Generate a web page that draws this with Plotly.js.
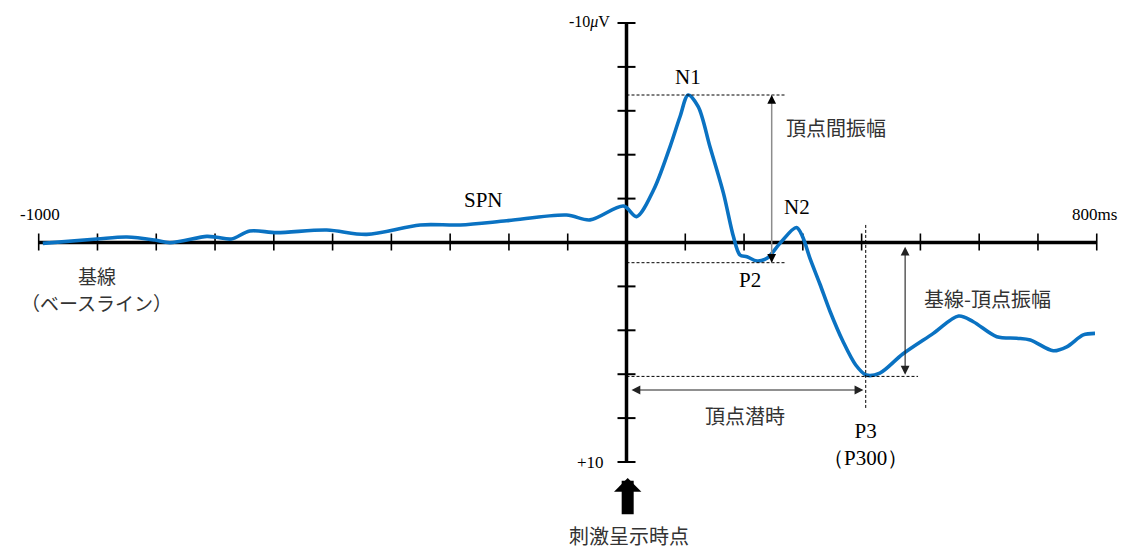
<!DOCTYPE html>
<html><head><meta charset="utf-8">
<script src="https://cdn.plot.ly/plotly-3.0.1.min.js"></script>
<style>html,body{margin:0;padding:0;background:#fff}#chart{width:1124px;height:550px}</style>
</head><body><div id="chart"></div>
<script>
// ---- data (ms, µV; negative is up) ----
const timesMs = [-993, -901, -850, -802, -777, -714, -697, -672, -641, -595, -510, -442, -351, -283, -204, -102, -62, -5, 17, 46, 74, 91, 105, 122, 142, 165, 182, 193, 205, 222, 239, 261, 289, 299, 312, 329, 346, 368, 390, 408, 431, 470, 522, 565, 590, 630, 664, 687, 726, 749, 777, 797];
const amplitudeUv = [0.04, -0.16, -0.25, -0.11, 0.01, -0.28, -0.24, -0.16, -0.52, -0.45, -0.57, -0.37, -0.80, -0.80, -0.99, -1.25, -1.03, -1.66, -1.18, -2.39, -4.36, -5.73, -6.72, -6.19, -4.36, -2.24, -0.26, 0.57, 0.65, 0.84, 0.72, 0.04, -0.68, -0.30, 0.71, 1.89, 3.12, 4.49, 5.58, 6.04, 5.95, 5.08, 4.14, 3.35, 3.61, 4.29, 4.36, 4.44, 4.93, 4.75, 4.21, 4.14];
const xTicks = [-1000, -900, -800, -700, -600, -500, -400, -300, -200, -100, 0, 100, 200, 300, 400, 500, 600, 700, 800];
const yTicks = [-10, -8, -6, -4, -2, 0, 2, 4, 6, 8, 10];
const xEndLabels = ['-1000', '800ms'];
const yEndLabels = ['-10<i>μ</i>V', '+10'];
const componentNames = ['N1', 'N2', 'P2', 'P3<br>（P300）', 'SPN'];
const jpLabels = ['頂点間振幅', '基線-頂点振幅', '頂点潜時', '基線', '（ベースライン）', '刺激呈示時点'];

// ---- derived peaks ----
function peakIn(lo, hi, sign) {
  let best = null;
  for (let i = 0; i < timesMs.length; i++) {
    if (timesMs[i] < lo || timesMs[i] > hi) continue;
    if (best === null || sign * amplitudeUv[i] > sign * amplitudeUv[best]) best = i;
  }
  return {t: timesMs[best], v: amplitudeUv[best]};
}
const n1 = peakIn(0, 200, -1);
const p2 = peakIn(150, 280, 1);
const p3 = peakIn(300, 800, 1);

const MS_PX = 1 / 0.5878, UV_PX = 1 / 21.95;
const xMin = xTicks[0], xMax = xTicks[xTicks.length - 1];
const yMin = yTicks[0], yMax = yTicks[yTicks.length - 1];

const serif = 'Liberation Serif';
const jp = 'Noto Sans CJK JP';
const ink = '#000';
const jpInk = '#333';

const shapes = [];
shapes.push({type: 'line', x0: xMin, x1: xMax, y0: 0, y1: 0, line: {color: ink, width: 3.5}, layer: 'below'});
shapes.push({type: 'line', x0: 0, x1: 0, y0: yMin, y1: yMax, line: {color: ink, width: 3.5}, layer: 'below'});
xTicks.forEach(t => {
  if (t === 0) return;
  shapes.push({type: 'line', x0: t, x1: t, y0: -9 * UV_PX, y1: 8 * UV_PX, line: {color: ink, width: 1.6}, layer: 'below'});
});
yTicks.forEach(v => {
  if (v === 0) return;
  shapes.push({type: 'line', x0: -9 * MS_PX, x1: 9 * MS_PX, y0: v, y1: v, line: {color: ink, width: 2}, layer: 'below'});
});
const dash = {color: ink, width: 1, dash: '3px,2px'};
shapes.push({type: 'line', x0: 0, x1: 270, y0: n1.v, y1: n1.v, line: dash});
shapes.push({type: 'line', x0: 0, x1: 270, y0: p2.v + 0.08, y1: p2.v + 0.08, line: dash});
shapes.push({type: 'line', x0: 0, x1: 496, y0: p3.v + 0.06, y1: p3.v + 0.06, line: dash});
shapes.push({type: 'line', x0: p3.t - 1, x1: p3.t - 1, y0: -0.8, y1: 7.54, line: dash});
const ppX = 247;
shapes.push({type: 'line', x0: ppX, x1: ppX, y0: n1.v, y1: p2.v + 0.08, line: {color: '#8c8c8c', width: 1.5}});

const annotations = [];
function txt(text, x, y, size, font, color, xanchor) {
  annotations.push({text: text, x: x, y: y, xref: 'x', yref: 'y', showarrow: false, borderpad: 0,
    xanchor: xanchor || 'center', yanchor: 'middle', font: {family: font, size: size, color: color}});
}
txt(xEndLabels[0], -997, -1.28, 17, serif, ink);
txt(xEndLabels[1], 797, -1.28, 17, serif, ink);
txt(yEndLabels[0], -26, -10 - 0.05, 16, serif, ink, 'right');
txt(yEndLabels[1], -37, 10, 17, serif, ink, 'right');
txt(componentNames[0], n1.t, -7.52, 21, serif, ink);
txt(componentNames[1], 290, -1.62, 21, serif, ink);
txt(componentNames[2], 210, 1.71, 21, serif, ink);
txt(componentNames[3], p3.t - 1, 9.2, 21, serif, ink);
txt(componentNames[4], -244, -1.94, 21, serif, ink);
txt(jpLabels[0], 357, -5.23, 20, jp, jpInk);
txt(jpLabels[1], 614, 2.54, 20, jp, jpInk);
txt(jpLabels[2], 202, 7.86, 20, jp, jpInk);
txt(jpLabels[3], -900, 1.52, 19, jp, jpInk);
txt(jpLabels[4], -901, 2.72, 19, jp, jpInk);
txt(jpLabels[5], 4, 13.35, 20, jp, jpInk);

function arrow(x, y, ax, ay, color, both) {
  annotations.push({text: '', x: x, y: y, ax: ax, ay: ay, xref: 'x', yref: 'y', axref: 'x', ayref: 'y',
    showarrow: true, arrowhead: 2, startarrowhead: 2, arrowsize: 1.6, startarrowsize: 1.6, arrowwidth: 1.1,
    arrowcolor: color, arrowside: both ? 'end+start' : 'end', standoff: 0, startstandoff: 0});
}
annotations.push({text: '', x: ppX, y: n1.v, xref: 'x', yref: 'y', ax: 0, ay: 9, showarrow: true,
  arrowhead: 2, arrowsize: 1.6, arrowwidth: 1.1, arrowcolor: ink, standoff: 0});
annotations.push({text: '', x: ppX, y: p2.v + 0.08, xref: 'x', yref: 'y', ax: 0, ay: -9, showarrow: true,
  arrowhead: 2, arrowsize: 1.6, arrowwidth: 1.1, arrowcolor: ink, standoff: 0});
arrow(474, p3.v - 0.02, 474, 0.12, '#222', true);
arrow(p3.t - 5, 6.72, 6, 6.72, '#222', true);
annotations.push({text: '', x: 2, y: 10.73, xref: 'x', yref: 'y', axref: 'x', ayref: 'y', ax: 2, ay: 12.45,
  showarrow: true, arrowhead: 1, arrowsize: 0.38, arrowwidth: 12, arrowcolor: ink, standoff: 0});

const trace = {
  x: timesMs, y: amplitudeUv, type: 'scatter', mode: 'lines',
  line: {color: '#0a72c2', width: 3.6, shape: 'spline', smoothing: 0.9},
  hoverinfo: 'skip'
};

const layout = {
  width: 1124, height: 550, margin: {l: 0, r: 0, t: 0, b: 0},
  paper_bgcolor: '#fff', plot_bgcolor: '#fff', showlegend: false,
  font: {family: serif},
  xaxis: {visible: false, range: [-626.5 * MS_PX, 497.5 * MS_PX], fixedrange: true},
  yaxis: {visible: false, range: [14.009, -11.048], fixedrange: true},
  shapes: shapes, annotations: annotations
};
Plotly.newPlot('chart', [trace], layout, {staticPlot: true});
</script>
</body></html>
